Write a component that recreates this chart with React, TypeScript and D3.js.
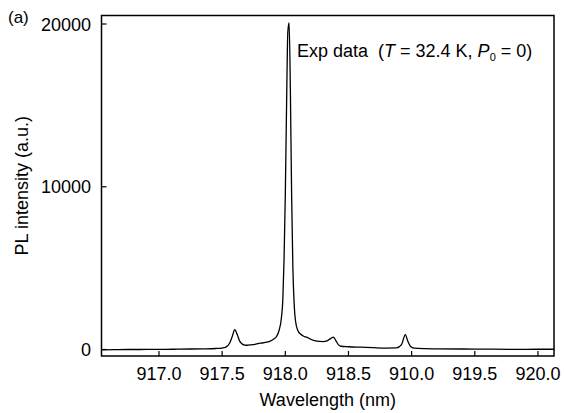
import React from "react";
import * as d3 from "d3";

const wavelengths = [
  916.55, 916.65, 916.75, 916.85, 916.95, 917.05, 917.15, 917.25, 917.35, 917.45,
  917.5, 917.53, 917.56, 917.58, 917.6, 917.62, 917.64, 917.66, 917.68, 917.7,
  917.73, 917.76, 917.79, 917.82, 917.85, 917.88, 917.91, 917.93, 917.95, 917.97,
  917.98, 917.99, 918.0, 918.01, 918.02, 918.03, 918.04, 918.05, 918.06, 918.07,
  918.08, 918.1, 918.12, 918.15, 918.18, 918.21, 918.24, 918.27, 918.3, 918.33,
  918.36, 918.38, 918.4, 918.42, 918.44, 918.5, 918.6, 918.7, 918.8, 918.88,
  918.92, 918.95, 918.97, 918.99, 919.02, 919.1, 919.2, 919.4, 919.6, 919.8,
  920.0, 920.13,
];
const intensities = [
  -20, -10, 0, 0, 10, 10, 20, 30, 40, 60,
  90, 150, 400, 800, 1220, 900, 500, 330, 270, 260,
  290, 320, 380, 400, 450, 520, 650, 800, 1150, 2000,
  3000, 5500, 9500, 15000, 19500, 20080, 16000, 9500, 5000, 2800,
  1800, 1150, 950, 800, 720, 600, 530, 500, 490, 530,
  680, 760, 550, 300, 200, 170, 140, 110, 90, 100,
  300, 920, 500, 200, 80, 50, 40, 30, 20, 10,
  15, 15,
];

const xTicks = [917.0, 917.5, 918.0, 918.5, 919.0, 919.5, 920.0];
const xTickLabels = ["917.0", "917.5", "918.0", "918.5", "910.0", "919.5", "920.0"];
const yTicks = [0, 10000, 20000];
const yTickLabels = ["0", "10000", "20000"];

export default function App() {
  const W = 564, H = 413;
  const left = 101.5, right = 554, top = 15.5, bottom = 356;
  const x = d3.scaleLinear().domain([916.545, 920.127]).range([left, right]);
  const y = d3.scaleLinear().domain([0, 20000]).range([349.5, 24]);
  const pts = wavelengths.map((w, i) => [w, intensities[i]] as [number, number]);
  const line = d3
    .line<[number, number]>()
    .x((d) => x(d[0]))
    .y((d) => y(d[1]))
    .curve(d3.curveMonotoneX);
  const font = "'Liberation Sans', Arial, sans-serif";
  return (
    <svg
      width={W}
      height={H}
      style={{ position: "absolute", left: 0, top: 0, background: "#fff" }}
      fontFamily={font}
    >
      <rect x={0} y={0} width={W} height={H} fill="#fff" />
      <path d={line(pts) || ""} fill="none" stroke="#000" strokeWidth={1.3} />
      <rect
        x={left}
        y={top}
        width={right - left}
        height={bottom - top}
        fill="none"
        stroke="#000"
        strokeWidth={1.5}
      />
      {xTicks.map((t, i) => (
        <g key={"xt" + i}>
          <line x1={x(t)} x2={x(t)} y1={bottom} y2={bottom - 5} stroke="#000" strokeWidth={1.2} />
          <text x={x(t)} y={380} textAnchor="middle" fontSize={18} fill="#000">
            {xTickLabels[i]}
          </text>
        </g>
      ))}
      {yTicks.map((t, i) => (
        <g key={"yt" + i}>
          <line x1={left} x2={left + 5} y1={y(t)} y2={y(t)} stroke="#000" strokeWidth={1.2} />
          <text x={91} y={y(t) + 6.5} textAnchor="end" fontSize={18} fill="#000">
            {yTickLabels[i]}
          </text>
        </g>
      ))}
      <text x={(left + right) / 2} y={406} textAnchor="middle" fontSize={18} fill="#000">
        Wavelength (nm)
      </text>
      <text
        transform={`translate(28,${(top + bottom) / 2}) rotate(-90)`}
        textAnchor="middle"
        fontSize={18}
        fill="#000"
      >
        PL intensity (a.u.)
      </text>
      <text x={8} y={23} fontSize={17} fill="#000">(a)</text>
      <text x={297} y={57} fontSize={18} fill="#000" style={{ whiteSpace: "pre" }}>
        <tspan>{"Exp data  ("}</tspan>
        <tspan fontStyle="italic">T</tspan>
        <tspan>{" = 32.4 K, "}</tspan>
        <tspan fontStyle="italic">P</tspan>
        <tspan fontSize={11} dy={4}>0</tspan>
        <tspan dy={-4}>{" = 0)"}</tspan>
      </text>
    </svg>
  );
}
